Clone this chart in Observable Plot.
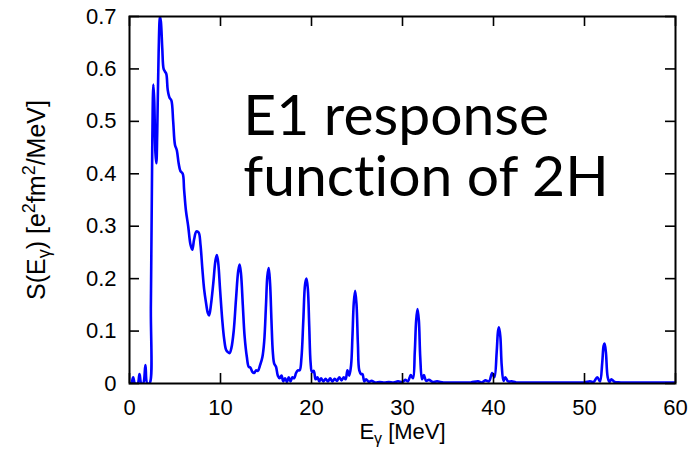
<!DOCTYPE html>
<html>
<head>
<meta charset="utf-8">
<script src="https://cdn.jsdelivr.net/npm/d3@7"></script>
<script src="https://cdn.jsdelivr.net/npm/@observablehq/plot@0.6"></script>
<style>
  html, body { margin: 0; padding: 0; background: #fff; }
  #chart { width: 697px; height: 456px; }
  svg text { font-variant-ligatures: none; font-feature-settings: "liga" 0, "clig" 0; }
</style>
</head>
<body>
<div id="chart"></div>
<script>
// Photon energy E_gamma [MeV]
const energy = [
  0.0, 0.2, 0.4, 0.6, 0.9, 1.1, 1.3, 1.5, 1.75, 1.95,
  2.2, 2.35, 2.5, 2.62, 2.72, 2.85, 2.95, 3.05, 3.2, 3.35,
  3.45, 3.6, 3.75, 3.9, 4.05, 4.2, 4.4, 4.6, 4.8, 5.0,
  5.2, 5.4, 5.6, 5.85, 6.0, 6.2, 6.45, 6.7, 6.9, 7.1,
  7.35, 7.6, 7.8, 8.0, 8.2, 8.4, 8.6, 8.75, 8.95, 9.2,
  9.45, 9.6, 9.75, 9.95, 10.2, 10.4, 10.6, 10.8, 11.0, 11.2,
  11.45, 11.7, 11.95, 12.1, 12.25, 12.45, 12.65, 12.9, 13.1, 13.3,
  13.5, 13.7, 13.9, 14.1, 14.35, 14.6, 14.8, 15.0, 15.15, 15.3,
  15.45, 15.6, 15.75, 15.9, 16.1, 16.3, 16.5, 16.7, 16.9, 17.1,
  17.3, 17.5, 17.7, 17.9, 18.1, 18.3, 18.5, 18.7, 18.9, 19.1,
  19.3, 19.45, 19.6, 19.75, 19.9, 20.05, 20.25, 20.45, 20.65, 20.85,
  21.05, 21.3, 21.55, 21.8, 22.05, 22.3, 22.55, 22.8, 23.05, 23.3,
  23.55, 23.75, 23.95, 24.15, 24.35, 24.5, 24.65, 24.8, 24.95, 25.1,
  25.25, 25.45, 25.6, 25.8, 26.0, 26.3, 26.6, 27.0, 27.5, 28.0,
  28.5, 29.0, 29.5, 30.0, 30.3, 30.6, 30.9, 31.15, 31.35, 31.5,
  31.65, 31.8, 31.95, 32.15, 32.35, 32.6, 32.9, 33.3, 33.8, 34.5,
  35.5, 36.5, 37.5, 38.3, 38.7, 39.1, 39.5, 39.85, 40.1, 40.35,
  40.5, 40.6, 40.75, 40.9, 41.1, 41.3, 41.6, 42.0, 42.5, 44.0,
  46.0, 48.0, 50.0, 50.6, 51.0, 51.4, 51.7, 51.95, 52.1, 52.2,
  52.35, 52.55, 52.75, 52.95, 53.3, 54.0, 56.0, 58.0, 60.0
];
// Response S(E_gamma) [e^2 fm^2 / MeV]
const response = [
  0.0, 0.0, 0.012, 0.0, 0.0, 0.018, 0.0, 0.0, 0.035, 0.0,
  0.0, 0.15, 0.45, 0.57, 0.54, 0.44, 0.42, 0.48, 0.63, 0.70,
  0.69, 0.64, 0.60, 0.595, 0.59, 0.56, 0.545, 0.54, 0.50, 0.455,
  0.445, 0.42, 0.405, 0.40, 0.37, 0.33, 0.30, 0.265, 0.255, 0.275,
  0.29, 0.288, 0.265, 0.22, 0.18, 0.155, 0.135, 0.13, 0.15, 0.19,
  0.235, 0.245, 0.23, 0.18, 0.12, 0.085, 0.065, 0.06, 0.058, 0.068,
  0.10, 0.16, 0.215, 0.227, 0.21, 0.15, 0.09, 0.05, 0.032, 0.03,
  0.022, 0.02, 0.025, 0.024, 0.035, 0.05, 0.08, 0.15, 0.205, 0.22,
  0.19, 0.12, 0.06, 0.038, 0.032, 0.015, 0.01, 0.015, 0.004, 0.01,
  0.003, 0.012, 0.004, 0.012, 0.01, 0.02, 0.025, 0.025, 0.05, 0.12,
  0.19, 0.20, 0.18, 0.11, 0.04, 0.022, 0.024, 0.008, 0.012, 0.004,
  0.01, 0.004, 0.009, 0.004, 0.01, 0.004, 0.009, 0.005, 0.012, 0.006,
  0.012, 0.008, 0.025, 0.015, 0.035, 0.09, 0.155, 0.177, 0.15, 0.075,
  0.025, 0.018, 0.018, 0.004, 0.008, 0.003, 0.005, 0.002, 0.003, 0.002,
  0.003, 0.002, 0.004, 0.003, 0.007, 0.004, 0.016, 0.01, 0.06, 0.12,
  0.142, 0.12, 0.05, 0.008, 0.016, 0.005, 0.007, 0.003, 0.004, 0.002,
  0.002, 0.002, 0.002, 0.004, 0.002, 0.006, 0.004, 0.02, 0.012, 0.06,
  0.10, 0.107, 0.09, 0.035, 0.005, 0.012, 0.004, 0.004, 0.002, 0.002,
  0.002, 0.002, 0.002, 0.004, 0.003, 0.012, 0.004, 0.04, 0.072, 0.076,
  0.06, 0.012, 0.003, 0.008, 0.003, 0.002, 0.002, 0.002, 0.002
];
const xTicks = [0, 10, 20, 30, 40, 50, 60];
const yTicks = [0, 0.1, 0.2, 0.3, 0.4, 0.5, 0.6, 0.7];
const xDomain = [0, 60];
const yDomain = [0, 0.7];
const annotation = "E1 response\nfunction of 2H";

const points = energy.map((e, i) => ({E: e, S: response[i]}));

const W = 697, H = 456;
const mL = 129, mR = 22, mT = 16, mB = 73;
const tickPx = 10;
const xTickLen = tickPx / (W - mL - mR) * (xDomain[1] - xDomain[0]);
const yTickLen = tickPx / (H - mT - mB) * (yDomain[1] - yDomain[0]);

const chart = Plot.plot({
  width: W, height: H,
  marginLeft: mL, marginRight: mR, marginTop: mT, marginBottom: mB,
  style: {fontFamily: "'Liberation Sans', Arial, sans-serif", fontSize: "22px", color: "#000", background: "#fff", overflow: "visible"},
  x: {domain: xDomain, label: null},
  y: {domain: yDomain, label: null},
  marks: [
    Plot.line(points, {x: "E", y: "S", stroke: "#0000ff", strokeWidth: 2.6, curve: "catmull-rom", clip: true}),
    Plot.ruleX(xTicks, {x: d => d, y1: yDomain[0], y2: yDomain[0] + yTickLen, stroke: "#000", strokeWidth: 1.6}),
    Plot.ruleX(xTicks, {x: d => d, y1: yDomain[1], y2: yDomain[1] - yTickLen, stroke: "#000", strokeWidth: 1.6}),
    Plot.ruleY(yTicks, {y: d => d, x1: xDomain[0], x2: xDomain[0] + xTickLen, stroke: "#000", strokeWidth: 1.6}),
    Plot.ruleY(yTicks, {y: d => d, x1: xDomain[1], x2: xDomain[1] - xTickLen, stroke: "#000", strokeWidth: 1.6}),
    Plot.frame({stroke: "#000", strokeWidth: 2}),
    Plot.axisX(xTicks, {tickSize: 0, tickPadding: 16, label: null, fontSize: 22, tickFormat: d => String(d)}),
    Plot.axisY(yTicks, {tickSize: 0, tickPadding: 13, label: null, fontSize: 22, tickFormat: d => String(d)}),
    Plot.text([annotation], {x: () => 12.5, y: () => 0.557, text: d => d, textAnchor: "start", lineAnchor: "top",
      lineHeight: 1.07, fontSize: 57, fontFamily: "Lato, 'Open Sans', sans-serif", fill: "#000"}),
    Plot.text(["YLABEL"], {frameAnchor: "left", dx: -93, rotate: -90, fontSize: 25, fill: "#000", text: d => d}),
    Plot.text(["XLABEL"], {frameAnchor: "bottom", dy: 55, fontSize: 22, fill: "#000", text: d => d})
  ]
});
document.getElementById("chart").appendChild(chart);

// Rich formatting for axis titles (subscripts / superscripts), re-centred after markup
chart.querySelectorAll("text").forEach(t => {
  let markup = null;
  if (t.textContent === "YLABEL") {
    markup = 'S(E<tspan dy="5" font-size="18">γ</tspan><tspan dy="-5">) [e</tspan>' +
      '<tspan dy="-10" font-size="18">2</tspan><tspan dy="10">fm</tspan>' +
      '<tspan dy="-10" font-size="18">2</tspan><tspan dy="10">/MeV]</tspan>';
  } else if (t.textContent === "XLABEL") {
    markup = 'E<tspan dy="5" font-size="16">γ</tspan><tspan dy="-5"> [MeV]</tspan>';
  }
  if (markup) {
    t.innerHTML = markup;
    t.setAttribute("text-anchor", "start");
    const len = t.getComputedTextLength();
    t.setAttribute("x", String(-len / 2));
  }
});
</script>
</body>
</html>
